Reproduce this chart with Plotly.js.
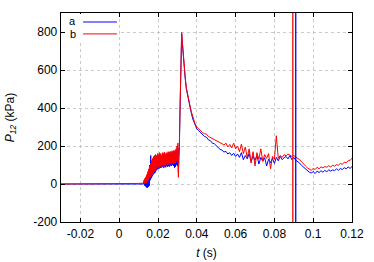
<!DOCTYPE html>
<html>
<head>
<meta charset="utf-8">
<script src="https://cdn.plot.ly/plotly-3.0.1.min.js"></script>
<style>
  html, body { margin: 0; padding: 0; background: #fff; }
  #chart { width: 374px; height: 262px; }
</style>
</head>
<body>
<div id="chart"></div>
<script>
// time (s)
const t = [
  -0.03, -0.02, -0.01, 0, 0.005, 0.01, 0.012,
  0.0125, 0.01275, 0.013, 0.01325, 0.0135, 0.01375, 0.014, 0.01425, 0.0145, 0.01475,
  0.015, 0.01525, 0.0155, 0.01575, 0.016, 0.01625, 0.0165, 0.01675, 0.017, 0.01725,
  0.0175, 0.01775, 0.018, 0.01825, 0.0185, 0.01875, 0.019, 0.01925, 0.0195, 0.01975,
  0.02, 0.02025, 0.0205, 0.02075, 0.021, 0.02125, 0.0215, 0.02175, 0.022, 0.02225,
  0.0225, 0.02275, 0.023, 0.02325, 0.0235, 0.02375, 0.024, 0.02425, 0.0245, 0.02475,
  0.025, 0.02525, 0.0255, 0.02575, 0.026, 0.02625, 0.0265, 0.02675, 0.027, 0.02725,
  0.0275, 0.02775, 0.028, 0.02825, 0.0285, 0.02875, 0.029, 0.02925, 0.0295, 0.02975,
  0.03, 0.03025, 0.0305, 0.03075, 0.031,
  0.0314, 0.0318, 0.0322, 0.0326, 0.033, 0.0335, 0.034, 0.0346, 0.0354,
  0.0363, 0.0372, 0.038, 0.039, 0.04,
  0.041, 0.042, 0.043, 0.044, 0.045, 0.046, 0.047, 0.048, 0.049, 0.05,
  0.051, 0.052, 0.053, 0.054, 0.055, 0.056, 0.057, 0.058, 0.059, 0.06,
  0.061, 0.062, 0.063, 0.064, 0.065, 0.066, 0.067, 0.068, 0.069, 0.07,
  0.071, 0.072, 0.073, 0.074, 0.075, 0.076, 0.077, 0.078, 0.079, 0.08,
  0.081, 0.082, 0.083, 0.084, 0.085, 0.086, 0.087, 0.088, 0.089, 0.09,
  0.091, 0.092, 0.093, 0.094, 0.095, 0.096, 0.097, 0.098, 0.099, 0.1,
  0.101, 0.102, 0.103, 0.104, 0.105, 0.106, 0.107, 0.108, 0.109, 0.11,
  0.111, 0.112, 0.113, 0.114, 0.115, 0.116, 0.117, 0.118, 0.119, 0.12
];

// P12 (kPa), run a
const pA = [
  0, 0, 0, 0, 0, 2, 3,
  0, 10, -8, 22, -12, 30, -18, 40, -20, 55,
  -15, 70, -10, 100, 20, 150, 30, 120, 40, 130,
  50, 140, 55, 145, 60, 150, 70, 145, 75, 155,
  80, 150, 80, 160, 85, 155, 85, 145, 88, 160,
  92, 155, 85, 162, 92, 150, 88, 160, 95, 155,
  90, 165, 95, 158, 92, 168, 98, 160, 95, 170,
  100, 162, 95, 172, 85, 168, 90, 175, 100, 180,
  95, 190, 60, 140, 190,
  410, 630, 790, 735, 675, 612, 558, 500, 455,
  415, 372, 340, 310, 290,
  280, 268, 262, 250, 246, 232, 228, 215, 212, 200,
  194, 182, 178, 168, 172, 158, 165, 150, 162, 145,
  158, 140, 165, 128, 150, 132, 160, 118, 148, 125,
  150, 105, 140, 120, 138, 95, 130, 112, 135, 108,
  140, 122, 145, 128, 138, 145, 132, 150, 128, 140,
  125, 118, 110, 98, 88, 80, 70, 62, 58, 65,
  55, 68, 60, 70, 62, 72, 64, 75, 68, 74,
  70, 80, 72, 82, 76, 86, 80, 90, 82, 92
];

// P12 (kPa), run b
const pB = [
  0, 0, 0, 0, 1, 3, 4,
  5, 20, 0, 30, 8, 38, 5, 50, 15, 65,
  20, 80, 30, 95, 35, 110, 40, 125, 50, 135,
  55, 145, 65, 150, 70, 155, 80, 150, 85, 160,
  90, 155, 85, 165, 95, 160, 90, 150, 95, 165,
  100, 160, 90, 168, 100, 155, 95, 165, 105, 160,
  98, 170, 105, 162, 100, 172, 108, 165, 102, 175,
  110, 168, 105, 178, 112, 172, 110, 185, 118, 200,
  120, 215, 35, 150, 200,
  420, 640, 798, 742, 682, 620, 565, 508, 460,
  422, 380, 350, 320, 300,
  288, 280, 270, 265, 262, 250, 245, 238, 232, 228,
  222, 218, 212, 205, 215, 195, 208, 190, 215, 185,
  200, 170, 210, 160, 195, 140, 185, 110, 170, 95,
  165, 130, 185, 120, 155, 135, 160, 80, 145, 130,
  254, 135, 150, 140, 155, 148, 158, 152, 145, 150,
  140, 135, 128, 115, 105, 95, 85, 80, 72, 82,
  76, 88, 80, 90, 85, 92, 88, 96, 90, 98,
  94, 102, 98, 108, 104, 114, 112, 122, 125, 135
];

// vertical markers (s)
const markA = 0.091;
const markB = 0.0895;

const xTicks = [-0.02, 0, 0.02, 0.04, 0.06, 0.08, 0.1, 0.12];
const xTickText = ['-0.02', '0', '0.02', '0.04', '0.06', '0.08', '0.1', '0.12'];
const yTicks = [-200, 0, 200, 400, 600, 800];
const yTickText = ['-200', '0', '200', '400', '600', '800'];

const names = ['a', 'b'];
const colors = ['#0000ff', '#ff0000'];

const chart = document.getElementById('chart');

const traces = [
  { x: t, y: pA, name: names[0], type: 'scatter', mode: 'lines',
    line: { color: colors[0], width: 1 } },
  { x: t, y: pB, name: names[1], type: 'scatter', mode: 'lines',
    line: { color: colors[1], width: 1 } }
];

const axisCommon = {
  showline: true,
  linecolor: '#000',
  linewidth: 1.3,
  mirror: 'ticks',
  ticks: 'inside',
  ticklen: 4,
  tickwidth: 1,
  tickcolor: '#000',
  showgrid: true,
  gridcolor: '#bdbdbd',
  griddash: 'dot',
  gridwidth: 0.8,
  zeroline: false,
  tickfont: { size: 12, color: '#000' }
};

// legend drawn gnuplot-style: label left, line sample right
const shapes = [
  { type: 'rect', xref: 'paper', yref: 'paper', x0: 0.017, x1: 0.196, y0: 0.866, y1: 0.995,
    fillcolor: '#fff', line: { width: 0 }, layer: 'above' },
  { type: 'line', xref: 'paper', yref: 'paper', x0: 0.076, x1: 0.192, y0: 0.957, y1: 0.957,
    line: { color: colors[0], width: 1 }, layer: 'above' },
  { type: 'line', xref: 'paper', yref: 'paper', x0: 0.076, x1: 0.192, y0: 0.9, y1: 0.9,
    line: { color: colors[1], width: 1 }, layer: 'above' },
  { type: 'line', xref: 'x', yref: 'paper', x0: markB, x1: markB, y0: 0, y1: 1,
    line: { color: colors[1], width: 1.3 }, layer: 'above' },
  { type: 'line', xref: 'x', yref: 'paper', x0: markA, x1: markA, y0: 0, y1: 1,
    line: { color: colors[0], width: 1.3 }, layer: 'above' }
];

const annotations = [
  { xref: 'paper', yref: 'paper', x: 0.04, y: 0.96, text: names[0], showarrow: false,
    xanchor: 'center', yanchor: 'middle', borderpad: 0, font: { size: 11, color: '#000' } },
  { xref: 'paper', yref: 'paper', x: 0.04, y: 0.898, text: names[1], showarrow: false,
    xanchor: 'center', yanchor: 'middle', borderpad: 0, font: { size: 11, color: '#000' } }
];

Plotly.newPlot(chart, traces, {
  width: 374,
  height: 262,
  margin: { l: 61, r: 22, t: 13, b: 40 },
  paper_bgcolor: '#fff',
  plot_bgcolor: '#fff',
  showlegend: false,
  font: { family: '"Liberation Sans", Arial, sans-serif', size: 12, color: '#000' },
  xaxis: Object.assign({}, axisCommon, {
    range: [-0.03, 0.12],
    tickvals: xTicks,
    ticktext: xTickText,
    title: { text: '<i>t</i> (s)', font: { size: 12 }, standoff: 9 }
  }),
  yaxis: Object.assign({}, axisCommon, {
    range: [-200, 900],
    tickvals: yTicks,
    ticktext: yTickText,
    title: { text: '<i>P</i><sub><i>12</i></sub> (kPa)', font: { size: 12 }, standoff: 16 }
  }),
  shapes: shapes,
  annotations: annotations
}, { staticPlot: true, displayModeBar: false });
</script>
</body>
</html>
